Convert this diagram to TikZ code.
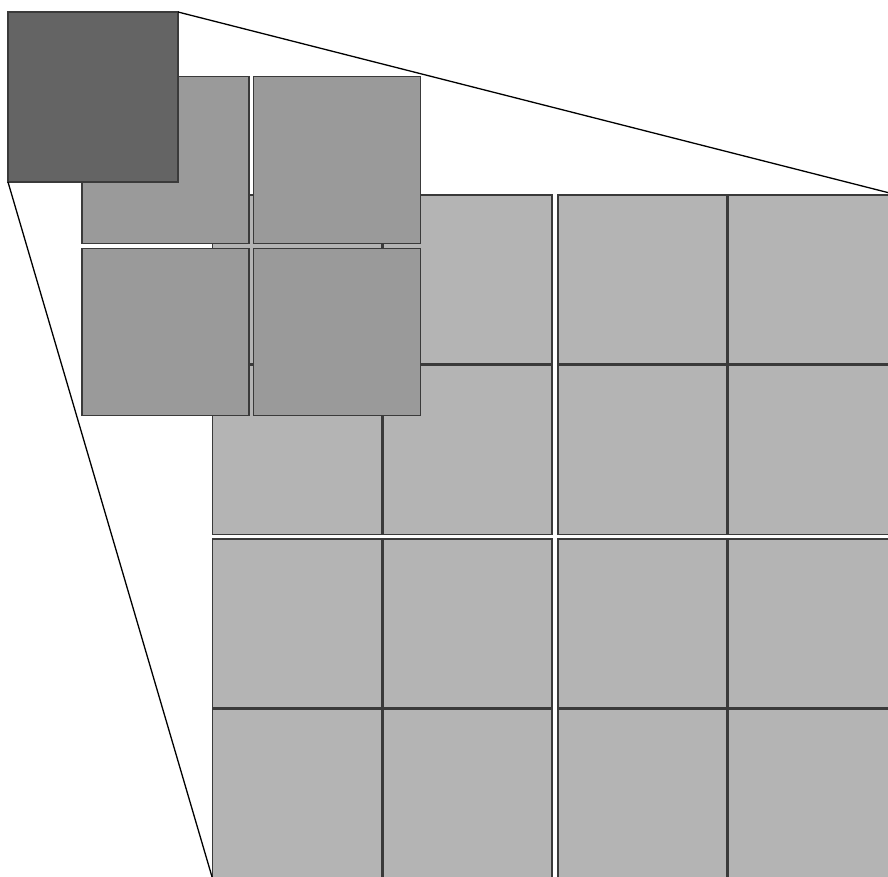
\documentclass[tikz,border=0pt]{standalone}
\usepackage{xcolor}
\definecolor{CellLight}{HTML}{B4B4B4}
\definecolor{CellMid}{HTML}{9A9A9A}
\definecolor{CellDark}{HTML}{646464}
\definecolor{CellEdge}{HTML}{3A3A3A}
\tikzset{
  cell/.style={draw=CellEdge,line width=1.5bp,fill=CellLight,minimum size=169bp,inner sep=0pt,outer sep=0pt},
  pooled/.style={cell,fill=CellMid,minimum size=167bp},
  window/.style={cell,fill=CellDark,minimum size=170bp},
  zoomline/.style={draw=black,line width=1.3bp}
}

\begin{document}
\begin{tikzpicture}[x=1bp,y=-1bp]
  % frame of the reference; the grid runs past its right and bottom edges
  \useasboundingbox (0,0) rectangle (888,877);
  \clip (0,0) rectangle (888,877);

  % input grid, two by two blocks of two by two cells
  \foreach \c/\cx in {1/297,2/467.5,3/642.5,4/813}
    \foreach \r/\ry in {1/279.5,2/450,3/623.5,4/794}
      \node[cell] (g\r\c) at (\cx,\ry) {};

  % pooled layer
  \node[pooled] (p11) at (165.5,160) {};
  \node[pooled] (p12) at (337,160) {};
  \node[pooled] (p21) at (165.5,332) {};
  \node[pooled] (p22) at (337,332) {};

  % single output cell
  \node[window] (win) at (93,97) {};

  \draw[zoomline] (win.north east) -- (g14.north east);
  \draw[zoomline] (win.south west) -- (g41.south west);
\end{tikzpicture}
\end{document}
